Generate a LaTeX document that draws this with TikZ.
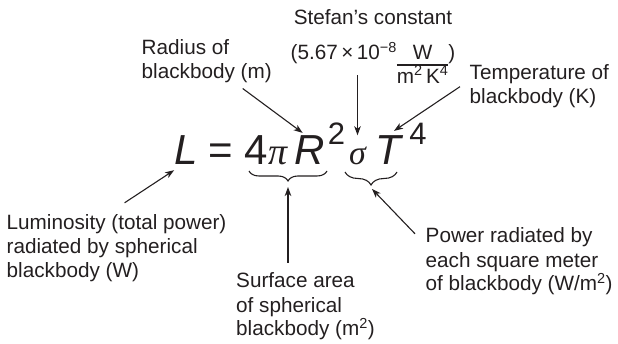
\documentclass[tikz,border=0pt]{standalone}
\usepackage{fontspec}
\setmainfont{Liberation Sans}
\newfontfamily\grkfam{Liberation Serif}
\usetikzlibrary{arrows.meta,decorations.pathreplacing,calc}
\definecolor{ink}{HTML}{231F20}
\newcommand\lblfont{\fontsize{20.7}{24}\selectfont}
\newcommand\eqfont{\fontsize{42}{48}\selectfont}
\newcommand\supfont{\fontsize{31}{36}\selectfont}
\newcommand\grkfont{\grkfam\itshape\fontsize{34}{40}\selectfont}
\newcommand\pifont{\grkfam\itshape\fontsize{38}{44}\selectfont}
\newcommand\stefanfrac{{\renewcommand\arraystretch{0.62}\setlength\arrayrulewidth{1.1pt}\begin{tabular}[t]{@{}c@{}}W\\\hline m\textsuperscript{2}\,K\textsuperscript{4}\end{tabular}}}
\begin{document}
\begin{tikzpicture}[x=1pt,y=-1pt,
  lbl/.style={font=\lblfont, align=left, inner sep=0pt, text=ink, anchor=base west},
  glyph/.style={inner sep=0pt, anchor=base, text=ink},
  arr/.style={draw=ink, line width=1.1pt, -{Stealth[length=9pt,width=6.5pt,inset=2.5pt]}},
  brc/.style={draw=ink, line width=1.1pt, decorate, decoration={brace, mirror, amplitude=#1}}]
\useasboundingbox (0,0) rectangle (618,344);
% equation
\node[glyph, font=\eqfont\itshape] (L) at (186,165) {L};
\node[glyph, font=\eqfont] (eq) at (221,165) {=};
\node[glyph, font=\eqfont] (four) at (256,165) {4};
\node[glyph, font=\pifont] (pi) at (278,165) {π};
\node[glyph, font=\eqfont\itshape] (R) at (310,165) {R};
\node[glyph, font=\supfont] (two) at (336.5,145) {2};
\node[glyph, font=\grkfont] (sigma) at (357.5,165) {σ};
\node[glyph, font=\eqfont\itshape] (T) at (388,165) {T};
\node[glyph, font=\supfont] (fourT) at (418,145) {4};
% braces
\draw[brc=10] (249,171) -- (327,171);
\draw[brc=13] (345,172) -- (397,172);
\coordinate (b1tip) at (288,182);
\coordinate (b2tip) at (371,186);
% labels (base = baseline of the last line)
\node[lbl, align=center, anchor=base] (stefan) at (373,60) {Stefan's constant\\[11pt](5.67\,×\,10\textsuperscript{−8}\stefanfrac)};
\node[lbl] (radius) at (141.5,79) {Radius of\\blackbody (m)};
\node[lbl] (temp) at (469.5,104) {Temperature of\\blackbody (K)};
\node[lbl] (lum) at (6.5,278) {Luminosity (total power)\\radiated by spherical\\blackbody (W)};
\node[lbl] (surf) at (236,336) {Surface area\\of spherical\\blackbody (m\textsuperscript{2})};
\node[lbl] (power) at (425.5,291) {Power radiated by\\each square meter\\of blackbody (W/m\textsuperscript{2})};
% arrows
\draw[arr] ($(lum.north)+(8,-12)$) -- ($(L.south west)+(0,5)$);
\draw[arr] ($(radius.south)+(36,5)$) -- ($(R.north west)+(8,-3)$);
\draw[arr] ($(sigma.north |- stefan.south)+(0,-12.5)$) -- ($(sigma.north)+(0,-12)$);
\draw[arr] ($(temp.west)+(-9.5,0)$) -- ($(T.north)+(6,-5)$);
\draw[arr] ($(b1tip |- surf.north)+(0,-10)$) -- ($(b1tip)+(0,5)$);
\draw[arr] ($(power.north west)+(-10.5,6)$) -- ($(b2tip)+(1,3)$);
\end{tikzpicture}
\end{document}
